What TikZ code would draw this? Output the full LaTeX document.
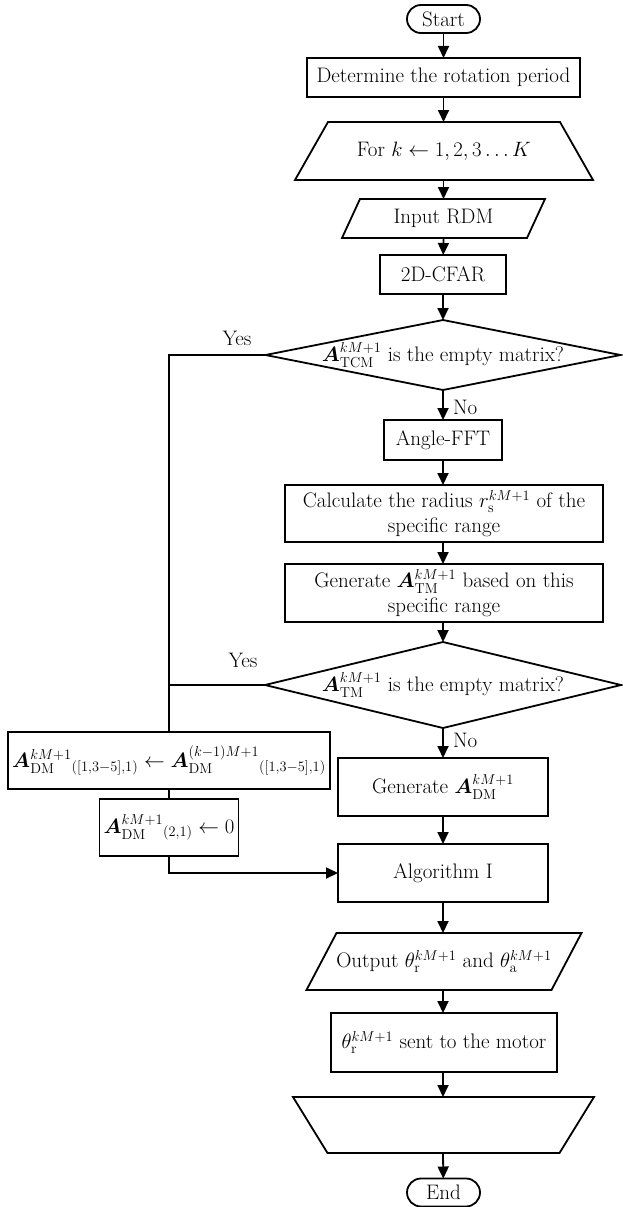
\documentclass[tikz,border=0pt]{standalone}
\usepackage{amsmath,bm}
\usetikzlibrary{arrows.meta,shapes.misc}
\tikzset{
  base/.style={inner sep=0pt, outer sep=0pt, align=center, font=\fontsize{21}{25}\selectfont},
  box/.style={base, draw, line width=1.8pt},
  body/.style={base, draw=none},
  term/.style={base, draw, line width=1.8pt, rounded rectangle, minimum width=73pt, minimum height=28pt},
  outline/.style={line width=1.8pt, line join=miter},
  arr/.style={line width=1.8pt, -{Triangle[length=12pt,width=11pt]}},
  link/.style={line width=1.8pt},
  lbl/.style={base},
  small/.style={font=\fontsize{20}{24}\selectfont}
}
\begin{document}
\begin{tikzpicture}[x=1pt,y=-1pt]
\useasboundingbox (0,0) rectangle (622,1207);
% terminals and boxes
\node[term] (start) at (443.5,19) {Start};
\node[box, minimum width=273pt, minimum height=39pt] (det) at (443.5,77.5) {Determine the rotation period};
\node[body, minimum width=232pt, minimum height=58pt] (for) at (444,151) {For $k \leftarrow 1, 2, 3 \ldots K$};
\draw[outline] (for.north west) -- (for.north east) -- ([xshift=33pt]for.south east) -- ([xshift=-33pt]for.south west) -- cycle;
\node[body, minimum width=185pt, minimum height=39pt] (input) at (443.5,218.5) {Input RDM};
\draw[outline] ([xshift=9pt]input.north west) -- ([xshift=9pt]input.north east) -- ([xshift=-9pt]input.south east) -- ([xshift=-9pt]input.south west) -- cycle;
\node[box, minimum width=126pt, minimum height=39pt] (cfar) at (443,274.5) {2D-CFAR};
\node[body, minimum width=355pt, minimum height=70pt] (d1) at (443,355) {$\bm{A}_{\mathrm{TCM}}^{kM+1}$ is the empty matrix?};
\draw[outline] (d1.north) -- (d1.east) -- (d1.south) -- (d1.west) -- cycle;
\node[box, minimum width=118pt, minimum height=40pt] (angle) at (443,440) {Angle-FFT};
\node[box, minimum width=318pt, minimum height=57pt] (calc) at (444,513.5) {Calculate the radius $r_{\mathrm{s}}^{kM+1}$ of the\\specific range};
\node[box, minimum width=318pt, minimum height=58pt] (gentm) at (444,593) {Generate $\bm{A}_{\mathrm{TM}}^{kM+1}$ based on this\\specific range};
\node[body, minimum width=356pt, minimum height=86pt] (d2) at (443,685) {$\bm{A}_{\mathrm{TM}}^{kM+1}$ is the empty matrix?};
\draw[outline] (d2.north) -- (d2.east) -- (d2.south) -- (d2.west) -- cycle;
\node[box, minimum width=210pt, minimum height=58pt] (gendm) at (443,787) {Generate $\bm{A}_{\mathrm{DM}}^{kM+1}$};
\node[box, minimum width=210pt, minimum height=58pt] (alg) at (443,873) {Algorithm I};
\node[body, minimum width=245pt, minimum height=57pt] (out) at (444,961.5) {Output $\theta_{\mathrm{r}}^{kM+1}$ and $\theta_{\mathrm{a}}^{kM+1}$};
\draw[outline] ([xshift=15pt]out.north west) -- ([xshift=15pt]out.north east) -- ([xshift=-15pt]out.south east) -- ([xshift=-15pt]out.south west) -- cycle;
\node[box, minimum width=226pt, minimum height=59pt] (motor) at (444,1042.5) {$\theta_{\mathrm{r}}^{kM+1}$ sent to the motor};
\node[body, minimum width=232pt, minimum height=56pt] (trap) at (443.5,1125) {};
\draw[outline] ([xshift=-34.5pt]trap.north west) -- ([xshift=34.5pt]trap.north east) -- (trap.south east) -- (trap.south west) -- cycle;
\node[term] (end) at (443.5,1192.5) {End};
% left branch
\node[box, small, minimum width=322pt, minimum height=57pt] (lb1) at (169,760.5) {$\bm{A}_{\mathrm{DM}}^{kM+1}{}_{([1,3-5],1)} \leftarrow \bm{A}_{\mathrm{DM}}^{(k-1)M+1}{}_{([1,3-5],1)}$};
\node[box, small, minimum width=139pt, minimum height=57pt] (lb2) at (169,827.5) {$\bm{A}_{\mathrm{DM}}^{kM+1}{}_{(2,1)} \leftarrow 0$};
% main connectors
\draw[arr] (start) -- (det);
\draw[arr] (det) -- (for.north -| det.south);
\draw[arr] (for.south -| det.south) -- (input.north -| det.south);
\draw[arr] (input.south -| det.south) -- (cfar);
\draw[arr] (cfar) -- (d1.north);
\draw[arr] (d1.south) -- (angle);
\node[lbl, anchor=west] (no1) at (453,407) {No};
\draw[arr] (angle) -- (angle.south |- calc.north);
\draw[arr] (angle.south |- calc.south) -- (angle.south |- gentm.north);
\draw[arr] (angle.south |- gentm.south) -- (d2.north);
\draw[arr] (d2.south) -- (gendm);
\node[lbl, anchor=west] (no2) at (453,740) {No};
\draw[arr] (gendm) -- (alg);
\draw[arr] (alg) -- (alg.south |- out.north);
\draw[arr] (alg.south |- out.south) -- (alg.south |- motor.north);
\draw[arr] (alg.south |- motor.south) -- (alg.south |- trap.north);
\draw[arr] (alg.south |- trap.south) -- (end);
% yes branches
\draw[link] (d1.west) -| (lb1.north);
\node[lbl] (yes1) at (237,338) {Yes};
\coordinate (j2) at (lb1.north |- d2.west);
\draw[link] (d2.west) -- (j2);
\node[lbl] (yes2) at (243,660) {Yes};
\draw[link] (lb1.south) -- (lb2.north);
\draw[arr] (lb2.south) |- (alg.west);
\end{tikzpicture}
\end{document}
